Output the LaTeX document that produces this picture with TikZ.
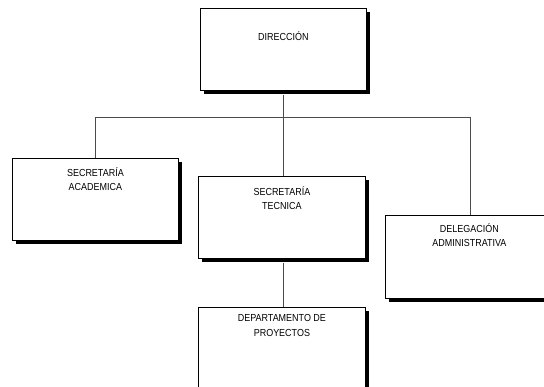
\documentclass[tikz,border=0pt]{standalone}
\usepackage{fontspec}
\setmainfont{Liberation Sans}[FakeStretch=0.88]
\usetikzlibrary{shadows}
\newcommand{\boxtxt}[4]{\parbox[t][#2pt][t]{#1pt}{\centering\vspace*{#3pt}#4\par}}
\tikzset{
  orgbox/.style={draw=black, fill=white, line width=0.8pt, inner sep=0pt, anchor=north west,
    font=\fontsize{10.2}{14.5}\selectfont,
    drop shadow={shadow xshift=4pt, shadow yshift=-4pt, fill=black, opacity=1}},
  link/.style={draw=black!70, line width=0.6pt}
}
\begin{document}
\begin{tikzpicture}[x=1pt,y=-1pt]
\useasboundingbox (0,0) rectangle (544,387);
\clip (0,0) rectangle (544,387);
\node[orgbox] (dir) at (200,8) {\boxtxt{166}{82}{23.5}{DIRECCIÓN}};
\node[orgbox] (sa) at (12,158) {\boxtxt{166}{82}{9}{SECRETARÍA\\ACADEMICA}};
\node[orgbox] (st) at (198,176) {\boxtxt{167}{82}{10}{SECRETARÍA\\TECNICA}};
\node[orgbox] (da) at (385,215) {\boxtxt{168}{83}{8}{DELEGACIÓN\\ADMINISTRATIVA}};
\node[orgbox] (dp) at (198,307) {\boxtxt{167}{90}{7}{DEPARTAMENTO DE\\PROYECTOS}};
\coordinate (bus) at (283,117);
\coordinate (busl) at (95,117);
\coordinate (busr) at (470,117);
\draw[link] (dir.south -| bus) ++(0,4) -- (bus);
\draw[link] (busl) -- (busr);
\draw[link] (busl) -- (busl |- sa.north);
\draw[link] (bus) -- (bus |- st.north);
\draw[link] (busr) -- (busr |- da.north);
\draw[link] (st.south -| bus) ++(0,4) -- (bus |- dp.north);
\end{tikzpicture}
\end{document}
